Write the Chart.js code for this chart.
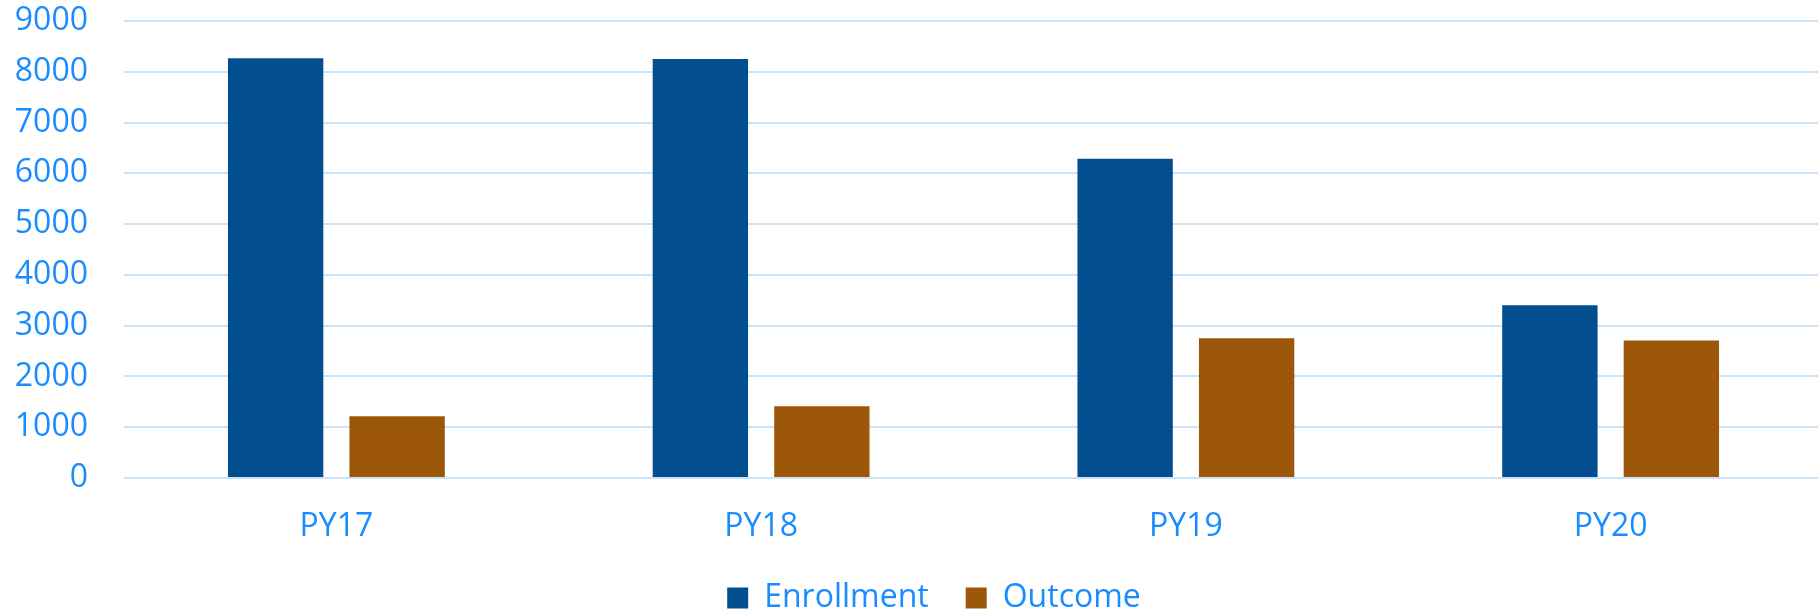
<!DOCTYPE html>
<html>
<head>
<meta charset="utf-8">
<script src="https://cdn.jsdelivr.net/npm/chart.js@4"></script>
<style>
  html, body { margin: 0; padding: 0; background: #fff; overflow: hidden; }
  #wrap { position: relative; width: 1823px; height: 621px; }
</style>
</head>
<body>
<div id="wrap"><canvas id="chart"></canvas></div>
<script>
// Data
const categories = ['PY17', 'PY18', 'PY19', 'PY20'];
const enrollment = [8265, 8250, 6285, 3400];
const outcome = [1215, 1415, 2750, 2710];
const yTicks = [0, 1000, 2000, 3000, 4000, 5000, 6000, 7000, 8000, 9000];

const textColor = '#1a8cff';
const font = { family: '"Open Sans", sans-serif', size: 32, lineHeight: 1 };

// nudge the legend a little right and down, like the original
const legendShift = {
    id: 'legendShift',
    afterLayout(chart) {
        const lg = chart.legend;
        lg.left += 15;
        lg.right += 15;
        lg.top += 3;
        lg.bottom += 3;
    }
};

new Chart(document.getElementById('chart'), {
    type: 'bar',
    data: {
        labels: categories,
        datasets: [
            { label: 'Enrollment', data: enrollment, backgroundColor: '#024e8e' },
            { label: 'Outcome', data: outcome, backgroundColor: '#9c570a' }
        ]
    },
    plugins: [legendShift],
    options: {
        responsive: true,
        maintainAspectRatio: false,
        animation: false,
        categoryPercentage: 0.572,
        barPercentage: 0.785,
        layout: { padding: { left: 15, right: 0, top: 21, bottom: 0 } },
        plugins: {
            tooltip: { enabled: false },
            legend: {
                position: 'bottom',
                labels: {
                    color: textColor,
                    font: font,
                    boxWidth: 21,
                    boxHeight: 21,
                    padding: 37
                }
            }
        },
        scales: {
            x: {
                grid: { display: false, drawTicks: false },
                border: { display: false },
                ticks: { color: textColor, font: font, padding: 33, maxRotation: 0 },
                afterFit: (scale) => { scale.height = 64; }
            },
            y: {
                min: 0,
                max: 9000,
                afterBuildTicks: (axis) => { axis.ticks = yTicks.map(v => ({ value: v })); },
                grid: { color: '#c9e3fb', lineWidth: 2, drawTicks: false },
                border: { display: false },
                ticks: { color: textColor, font: font, padding: 36, callback: (v) => String(v) },
                afterFit: (scale) => {
                    scale.width = 109;
                    scale.paddingTop = 0;
                    scale.paddingBottom = 0;
                }
            }
        }
    }
});
</script>
</body>
</html>
